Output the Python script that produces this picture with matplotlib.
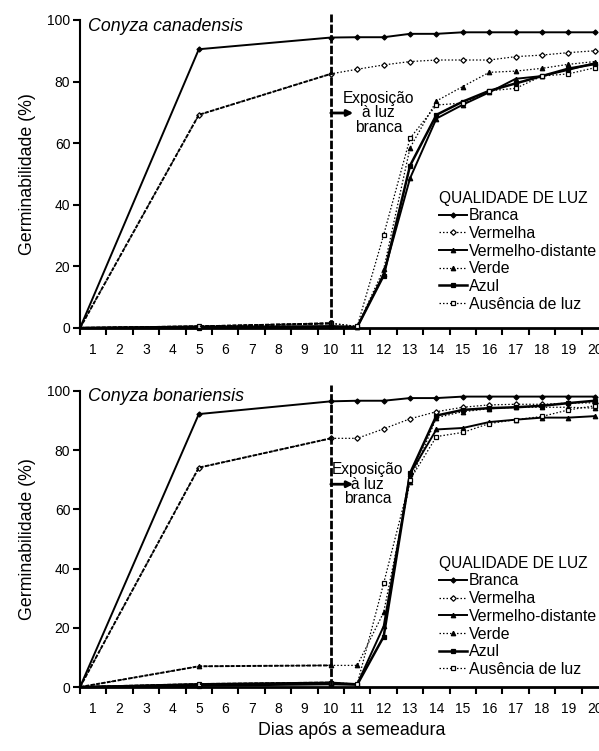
import matplotlib
matplotlib.use("Agg")
import matplotlib.pyplot as plt

plt.rcParams['font.family'] = ['Liberation Sans', 'DejaVu Sans']

# days after sowing (first point sits on the y axis)
days = [0.5, 5, 10, 11, 12, 13, 14, 15, 16, 17, 18, 19, 20]
day_labels = [str(d) for d in range(1, 21)]
exposure_day = 10

# Conyza canadensis
branca_c = [0, 90.5, 94.3, 94.4, 94.4, 95.5, 95.5, 96, 96, 96, 96, 96, 96]
vermelha_c = [0, 69.2, 82.5, 84, 85.4, 86.5, 87, 87, 87, 88.1, 88.6, 89.4, 90]
vdist_c = [0, 0.5, 0.5, 0.3, 17.5, 48.6, 68, 72.5, 76.5, 80.9, 81.8, 83.8, 86]
verde_c = [0, 0.5, 1.5, 0.5, 19, 58.5, 73.7, 78.4, 83, 83.4, 84.3, 85.6, 86.5]
azul_c = [0, 0, 0.5, 0.3, 17, 52.7, 69.2, 73.5, 77, 79.4, 81.8, 84.2, 85.7]
ausencia_c = [0, 0.5, 1.5, 0.5, 30.2, 61.6, 72.4, 73, 77, 77.8, 81.8, 82.5, 84.5]

# Conyza bonariensis
branca_b = [0, 92.2, 96.5, 96.7, 96.7, 97.6, 97.6, 98.1, 98.1, 98.1, 98.1, 98.1, 98.1]
vermelha_b = [0, 74.1, 84, 84, 87.2, 90.6, 93, 94.5, 95.3, 95.5, 95.5, 95.9, 96]
vdist_b = [0, 1, 1.5, 1, 20.5, 72, 87, 87.5, 89.5, 90.3, 91, 91, 91.5]
verde_b = [0, 7, 7.3, 7.3, 25.2, 69.4, 91, 93, 94, 94.5, 94.5, 94.5, 94.2]
azul_b = [0, 0.5, 1, 0.8, 17, 72.2, 91.7, 93.6, 94.2, 94.5, 95, 95.9, 96.7]
ausencia_b = [0, 1, 1.5, 1, 35, 70, 84.6, 86, 89, 90.3, 91.4, 93.6, 95]

names = ["Branca", "Vermelha", "Vermelho-distante", "Verde", "Azul", "Ausência de luz"]

dot = (0, (1.2, 1.6))
styles = [
    dict(ls='-', lw=1.4, marker='D', ms=2.6, mfc='black'),
    dict(ls=dot, lw=0.9, marker='D', ms=2.8, mfc='white'),
    dict(ls='-', lw=1.4, marker='^', ms=3.2, mfc='black'),
    dict(ls=dot, lw=0.9, marker='^', ms=3.2, mfc='black'),
    dict(ls='-', lw=1.8, marker='s', ms=3.0, mfc='black'),
    dict(ls=dot, lw=0.9, marker='s', ms=3.2, mfc='white'),
]

fig = plt.figure(figsize=(5.99, 7.51), dpi=100)
ax_top = fig.add_axes([0.1336, 0.5633, 0.8815, 0.4101])
ax_bot = fig.add_axes([0.1336, 0.0852, 0.8815, 0.3942])

panels = [
    (ax_top, "Conyza canadensis", [branca_c, vermelha_c, vdist_c, verde_c, azul_c, ausencia_c],
     11.8, 69.8, 0.472),
    (ax_bot, "Conyza bonariensis", [branca_b, vermelha_b, vdist_b, verde_b, azul_b, ausencia_b],
     11.4, 68.5, 0.47),
]

for ax, title, series, tx, ty, leg_y in panels:
    for name, vals, st in zip(names, series, styles):
        ax.plot(days, vals, color='black', mec='black', mew=0.9, label=name,
                markevery=list(range(1, len(days))), clip_on=False, zorder=3, **st)
        if st['ls'] == dot:
            # dark period segment looks heavier in the original
            ax.plot(days[:3], vals[:3], color='black', ls=(0, (2, 0.8)), lw=1.4,
                    clip_on=False, zorder=3)

    # exposure marker
    ax.plot([exposure_day, exposure_day], [0, 102], color='black', lw=2,
            ls=(0, (3, 0.8)), clip_on=False, zorder=4)
    ax.annotate("", xy=(exposure_day + 0.85, ty), xytext=(exposure_day, ty),
                arrowprops=dict(arrowstyle='-|>', color='black', lw=2,
                                mutation_scale=9, shrinkA=0, shrinkB=0))
    ax.text(tx, ty, "Exposição\nà luz\nbranca", ha='center', va='center',
            fontsize=11.2, linespacing=0.95)

    ax.text(0.8, 98, title, style='italic', fontsize=12.8, va='center', ha='left')

    ax.set_xlim(0.5, 20.5)
    ax.set_ylim(0, 100)
    ax.set_yticks(range(0, 101, 20))
    ax.set_xticks([d + 0.5 for d in range(0, 21)])
    ax.set_xticklabels([])
    ax.set_xticks(range(1, 21), minor=True)
    ax.set_xticklabels(day_labels, minor=True)
    ax.tick_params(axis='x', which='major', direction='out', length=5, width=1.5)
    ax.tick_params(axis='x', which='minor', length=0, pad=11, labelsize=10)
    ax.tick_params(axis='y', direction='out', length=5, width=1.5, pad=2, labelsize=10)
    for s in ['top', 'right']:
        ax.spines[s].set_visible(False)
    ax.spines['left'].set_linewidth(1.5)
    ax.spines['bottom'].set_linewidth(2)
    ax.set_ylabel("Germinabilidade (%)", fontsize=12.8, labelpad=8)

    leg = ax.legend(title="QUALIDADE DE LUZ", loc='upper left', bbox_to_anchor=(0.665, leg_y),
                    frameon=False, fontsize=11.4, title_fontsize=11.2, borderpad=0,
                    labelspacing=0.17, handlelength=1.75, handletextpad=0.15,
                    alignment='left')

fig.text(0.587, 0.027, "Dias após a semeadura", ha='center', va='center', fontsize=12.8)

fig.savefig("out.png", dpi=100)
